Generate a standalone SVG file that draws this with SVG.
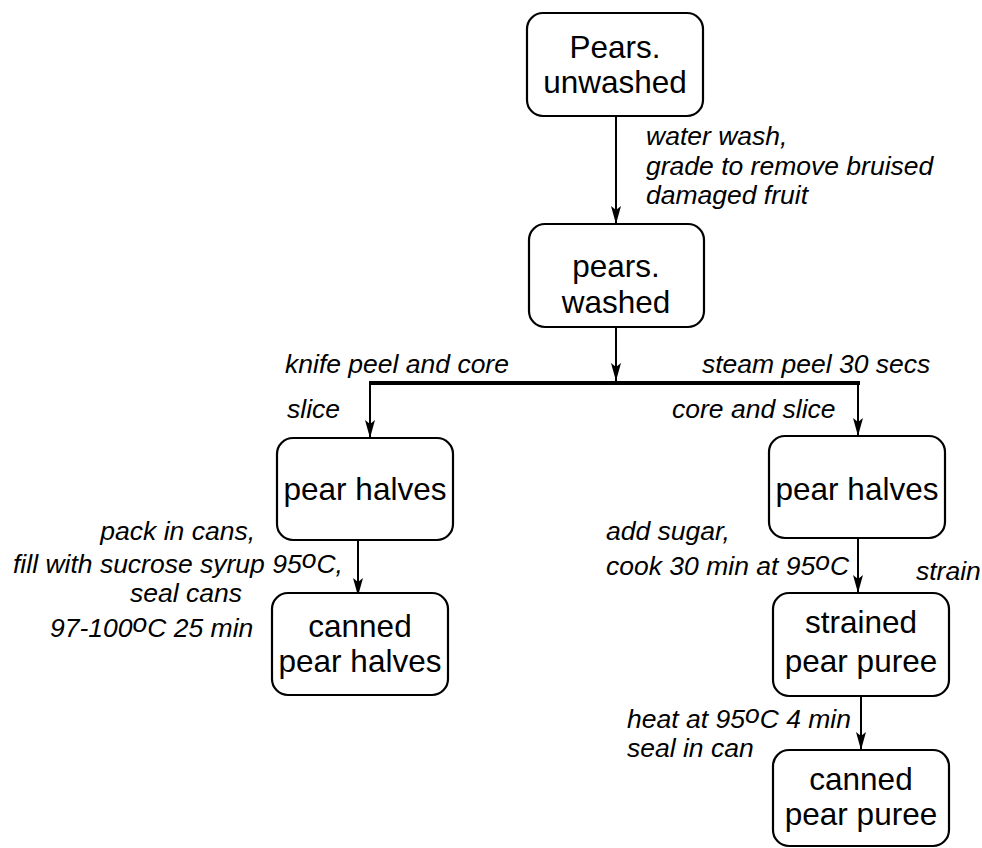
<svg xmlns="http://www.w3.org/2000/svg" width="982" height="848" viewBox="0 0 982 848">
<style>
.box{fill:#fff;stroke:#000;stroke-width:2.2}
.nt{font-family:"Liberation Sans",Arial,sans-serif;font-size:31.5px;text-anchor:middle;fill:#000}
.lb{font-family:"Liberation Sans",Arial,sans-serif;font-size:26.5px;font-style:italic;fill:#000}
.ln{stroke:#000;stroke-width:2;fill:none}
</style>
<defs>
<marker id="a" viewBox="0 0 18 10" refX="18" refY="5" markerWidth="18" markerHeight="10" markerUnits="userSpaceOnUse" orient="auto">
<path d="M0,0 L18,5 L0,10 L4,5 Z" fill="#000"/>
</marker>
</defs>
<g id="connectors">
<line class="ln" x1="616" y1="116" x2="616" y2="224" marker-end="url(#a)"/>
<line class="ln" x1="616" y1="327" x2="616" y2="381" marker-end="url(#a)"/>
<line x1="369" y1="383" x2="860" y2="383" stroke="#000" stroke-width="4"/>
<line class="ln" x1="370" y1="383" x2="370" y2="438" marker-end="url(#a)"/>
<line class="ln" x1="858" y1="383" x2="858" y2="436" marker-end="url(#a)"/>
<line class="ln" x1="358" y1="540" x2="358" y2="596" marker-end="url(#a)"/>
<line class="ln" x1="858" y1="538" x2="858" y2="593" marker-end="url(#a)"/>
<line class="ln" x1="861" y1="696" x2="861" y2="750" marker-end="url(#a)"/>
</g>
<g id="labels">
<text class="lb" x="646" y="145">water wash,</text>
<text class="lb" x="646" y="175">grade to remove bruised</text>
<text class="lb" x="646" y="204">damaged fruit</text>
<text class="lb" x="285" y="373">knife peel and core</text>
<text class="lb" x="287" y="418">slice</text>
<text class="lb" x="702" y="373">steam peel 30 secs</text>
<text class="lb" x="672" y="418">core and slice</text>
<text class="lb" x="255" y="540" text-anchor="end">pack in cans,</text>
<text class="lb" x="13" y="573">fill with sucrose syrup 95<tspan dy="-5">o</tspan><tspan dy="5">C,</tspan></text>
<text class="lb" x="242" y="602" text-anchor="end">seal cans</text>
<text class="lb" x="50" y="637">97-100<tspan dy="-5">o</tspan><tspan dy="5">C 25 min</tspan></text>
<text class="lb" x="606" y="540">add sugar,</text>
<text class="lb" x="606" y="575">cook 30 min at 95<tspan dy="-5">o</tspan><tspan dy="5">C</tspan></text>
<text class="lb" x="916" y="580">strain</text>
<text class="lb" x="627" y="728">heat at 95<tspan dy="-5">o</tspan><tspan dy="5">C 4 min</tspan></text>
<text class="lb" x="627" y="757">seal in can</text>
</g>
<g id="n1"><rect class="box" x="527" y="13" width="176" height="103" rx="16"/><text class="nt" x="615" y="58">Pears.</text><text class="nt" x="615" y="93">unwashed</text></g>
<g id="n2"><rect class="box" x="529" y="224" width="175" height="103" rx="16"/><text class="nt" x="616" y="277">pears.</text><text class="nt" x="616" y="313">washed</text></g>
<g id="n3"><rect class="box" x="277" y="438" width="176" height="102" rx="16"/><text class="nt" x="365" y="500">pear halves</text></g>
<g id="n4"><rect class="box" x="272" y="593" width="176" height="102" rx="16"/><text class="nt" x="360" y="637">canned</text><text class="nt" x="360" y="672">pear halves</text></g>
<g id="n5"><rect class="box" x="769" y="436" width="176" height="102" rx="16"/><text class="nt" x="857" y="500">pear halves</text></g>
<g id="n6"><rect class="box" x="773" y="593" width="176" height="103" rx="16"/><text class="nt" x="861" y="633">strained</text><text class="nt" x="861" y="672">pear puree</text></g>
<g id="n7"><rect class="box" x="773" y="750" width="176" height="96" rx="16"/><text class="nt" x="861" y="790">canned</text><text class="nt" x="861" y="825">pear puree</text></g>
</svg>
